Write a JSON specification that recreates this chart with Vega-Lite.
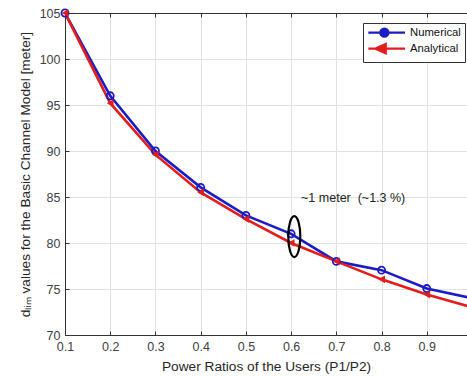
{
  "$schema": "https://vega.github.io/schema/vega-lite/v6.json",
  "autosize": {"type": "none"},
  "padding": {"left": 65, "top": 13, "right": 0, "bottom": 41},
  "width": 402,
  "height": 322,
  "background": "white",
  "config": {
    "font": "Liberation Sans",
    "view": {"stroke": null},
    "axis": {"labelFont": "Liberation Sans", "titleFont": "Liberation Sans", "titleFontWeight": "normal"}
  },
  "datasets": {
    "curves": [
      {"x": 0.1, "v": 105.0, "series": "Numerical"},
      {"x": 0.2, "v": 96.0, "series": "Numerical"},
      {"x": 0.3, "v": 90.0, "series": "Numerical"},
      {"x": 0.4, "v": 86.05, "series": "Numerical"},
      {"x": 0.5, "v": 83.0, "series": "Numerical"},
      {"x": 0.6, "v": 81.0, "series": "Numerical"},
      {"x": 0.7, "v": 78.0, "series": "Numerical"},
      {"x": 0.8, "v": 77.05, "series": "Numerical"},
      {"x": 0.9, "v": 75.05, "series": "Numerical"},
      {"x": 1.0, "v": 74.0, "series": "Numerical"},
      {"x": 0.1, "v": 105.0, "series": "Analytical"},
      {"x": 0.2, "v": 95.2, "series": "Analytical"},
      {"x": 0.3, "v": 89.6, "series": "Analytical"},
      {"x": 0.4, "v": 85.5, "series": "Analytical"},
      {"x": 0.5, "v": 82.6, "series": "Analytical"},
      {"x": 0.6, "v": 80.0, "series": "Analytical"},
      {"x": 0.7, "v": 78.0, "series": "Analytical"},
      {"x": 0.8, "v": 76.05, "series": "Analytical"},
      {"x": 0.9, "v": 74.4, "series": "Analytical"},
      {"x": 1.0, "v": 73.0, "series": "Analytical"}
    ],
    "notes": [
      {"x": 0.622, "v": 84.9, "label": "~1 meter \u00a0(~1.3 %)"}
    ],
    "marks": [
      {"x": 0.607, "v": 80.7}
    ]
  },
  "resolve": {"axis": {"x": "independent"}},
  "layer": [
    {
      "data": {"name": "curves"},
      "mark": {"type": "line", "strokeWidth": 2.6, "clip": true},
      "encoding": {
        "x": {
          "field": "x", "type": "quantitative",
          "scale": {"domain": [0.1, 0.98889], "nice": false, "zero": false},
          "axis": {
            "orient": "bottom",
            "values": [0.1, 0.2, 0.3, 0.4, 0.5, 0.6, 0.7, 0.8, 0.9],
            "format": ".1f",
            "grid": true, "gridColor": "#e2e2e2", "gridWidth": 1,
            "domainColor": "#333333", "domainWidth": 1,
            "tickColor": "#333333", "tickSize": -4,
            "labelPadding": 9, "labelFontSize": 12.5, "labelColor": "#404040",
            "labelFlush": false,
            "title": "Power Ratios of the Users (P1/P2)",
            "titleFontSize": 13.7, "titleColor": "#262626", "titlePadding": 7
          }
        },
        "y": {
          "field": "v", "type": "quantitative",
          "scale": {"domain": [70, 105], "nice": false, "zero": false},
          "axis": {
            "values": [70, 75, 80, 85, 90, 95, 100, 105],
            "grid": true, "gridColor": "#e2e2e2", "gridWidth": 1,
            "domainColor": "#333333", "domainWidth": 1,
            "tickColor": "#333333", "tickSize": -4,
            "labelPadding": 9, "labelFontSize": 12.5, "labelColor": "#404040",
            "labelFlush": false,
            "title": "dₗᵢₘ values for the Basic Channel Model [meter]",
            "titleFontSize": 13.7, "titleColor": "#262626", "titlePadding": 7
          }
        },
        "color": {
          "field": "series", "type": "nominal",
          "scale": {"domain": ["Numerical", "Analytical"], "range": ["#1c1cc4", "#e31c1c"]},
          "legend": {
            "orient": "none", "legendX": 298, "legendY": 10,
            "title": null,
            "direction": "vertical",
            "fillColor": "white", "strokeColor": "#333333", "cornerRadius": 0,
            "padding": 4, "rowPadding": -3,
            "symbolSize": 64, "symbolStrokeWidth": 2.4, "symbolOpacity": 1,
            "labelFontSize": 11.3, "labelColor": "#111111", "labelOffset": 31.7,
            "encode": {
              "symbols": {
                "update": {
                  "shape": {"signal": "datum.value == 'Numerical' ? 'M-1.08,0H8.08M1.93,0A1,1 0 1,0 3.93,0A1,1 0 1,0 1.93,0Z' : 'M-1.08,0H8.08M0.75,0L3.25,-1.125L3.25,1.125Z'"},
                  "fill": {"signal": "datum.value == 'Numerical' ? 'transparent' : '#e31c1c'"}
                }
              }
            }
          }
        }
      }
    },
    {
      "data": {"name": "curves"},
      "transform": [{"filter": "datum.series == 'Numerical'"}],
      "mark": {"type": "point", "shape": "circle", "filled": false, "strokeWidth": 1.8, "opacity": 1, "size": 50},
      "encoding": {
        "x": {"field": "x", "type": "quantitative", "axis": null},
        "y": {"field": "v", "type": "quantitative"},
        "color": {"field": "series", "type": "nominal"}
      }
    },
    {
      "data": {"name": "curves"},
      "transform": [{"filter": "datum.series == 'Analytical'"}],
      "mark": {"type": "point", "shape": "triangle-left", "filled": true, "strokeWidth": 1.5, "opacity": 1, "size": 60},
      "encoding": {
        "x": {"field": "x", "type": "quantitative", "axis": null},
        "y": {"field": "v", "type": "quantitative"},
        "color": {"field": "series", "type": "nominal"}
      }
    },
    {
      "data": {"name": "notes"},
      "mark": {"type": "text", "align": "left", "baseline": "middle", "fontSize": 12.5, "color": "#222222", "font": "Liberation Sans"},
      "encoding": {
        "x": {
          "field": "x", "type": "quantitative",
          "axis": {
            "orient": "top", "labels": false, "grid": false, "title": null,
            "values": [0.1, 0.2, 0.3, 0.4, 0.5, 0.6, 0.7, 0.8, 0.9],
            "domainColor": "#333333", "domainWidth": 1,
            "tickColor": "#333333", "tickSize": -4
          }
        },
        "y": {"field": "v", "type": "quantitative"},
        "text": {"field": "label"}
      }
    },
    {
      "data": {"name": "marks"},
      "mark": {"type": "point", "shape": "M-0.293,0A0.293,1 0 1,0 0.293,0A0.293,1 0 1,0 -0.293,0Z", "size": 1681, "stroke": "black", "strokeWidth": 2.2, "fill": null, "filled": false, "opacity": 1},
      "encoding": {
        "x": {"field": "x", "type": "quantitative", "axis": null},
        "y": {"field": "v", "type": "quantitative"}
      }
    }
  ]
}
